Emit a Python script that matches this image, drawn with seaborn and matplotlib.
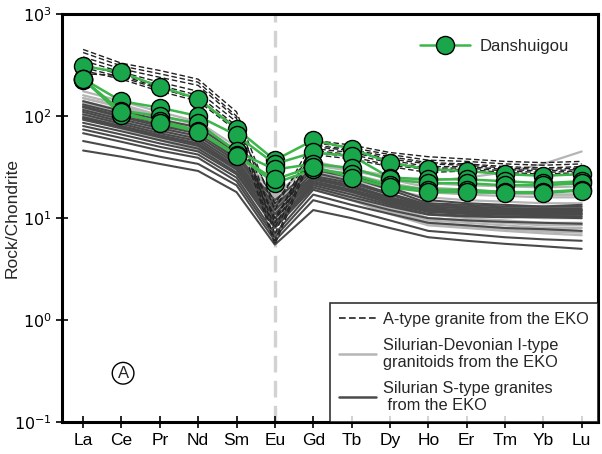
import numpy as np
import pandas as pd
import matplotlib
matplotlib.use("Agg")
import matplotlib.pyplot as plt
from matplotlib.lines import Line2D
import seaborn as sns

sns.set_style("ticks")
plt.rcParams["font.family"] = ["Liberation Sans", "DejaVu Sans"]

elements = ["La", "Ce", "Pr", "Nd", "Sm", "Eu", "Gd", "Tb", "Dy", "Ho", "Er", "Tm", "Yb", "Lu"]

# Chondrite-normalised REE patterns
a_type = [
    [450, 330, 280, 230, 110, 12, 58, 52, 44, 40, 38, 36, 35, 36],
    [420, 310, 260, 215, 100, 9, 55, 49, 42, 37, 36, 34, 33, 34],
    [380, 290, 240, 200, 95, 7, 52, 47, 40, 35, 34, 32, 31, 32],
    [350, 270, 215, 175, 88, 6, 48, 44, 37, 32, 32, 30, 29, 30],
    [320, 255, 200, 160, 80, 14, 46, 42, 35, 31, 31, 29, 28, 29],
    [300, 240, 185, 150, 75, 5.5, 44, 40, 33, 30, 30, 28, 27, 28],
    [280, 230, 175, 140, 72, 10, 42, 38, 32, 28, 29, 27, 26, 27],
    [260, 250, 190, 145, 78, 8, 50, 46, 38, 34, 33, 31, 30, 31],
]

i_type = [
    [175, 140, 110, 88, 50, 16, 36, 30, 24, 20, 19, 18, 17, 17],
    [160, 130, 102, 82, 46, 14, 33, 29, 25, 23, 25, 28, 34, 45],
    [150, 122, 95, 76, 42, 14, 31, 26, 21, 18, 17, 16.5, 16, 16],
    [140, 114, 89, 71, 40, 13, 29, 24, 19, 16, 15, 14.5, 14, 14],
    [132, 106, 83, 66, 38, 13, 27, 22, 17, 14, 13, 12.5, 12, 12],
    [125, 100, 78, 62, 36, 12, 25, 20, 15, 12, 11, 10.5, 10, 10],
    [118, 95, 74, 58, 34, 12, 24, 19, 14, 11, 10, 9.5, 9, 9],
    [112, 90, 70, 55, 32, 11, 23, 18, 13, 10, 9.5, 9, 8.5, 8.5],
    [108, 86, 66, 52, 30, 11, 22, 17, 12.5, 9.5, 9, 8.5, 8, 8],
    [102, 82, 63, 50, 29, 10, 21, 16, 12, 9, 8.5, 8, 7.7, 7.5],
    [98, 78, 60, 48, 28, 10, 20, 15.5, 11.5, 8.7, 8.2, 7.8, 7.4, 7.2],
    [95, 75, 58, 46, 27, 9.5, 19, 15, 11, 8.5, 8, 7.5, 7.1, 6.8],
    [150, 125, 100, 82, 46, 17, 34, 30, 26, 22, 21, 20.5, 20, 20.5],
    [135, 112, 90, 74, 43, 15, 31, 27, 22, 19, 18, 17.5, 17, 17],
    [120, 98, 78, 62, 36, 12, 26, 21, 16, 12.5, 11.5, 11, 10.5, 10.5],
    [105, 85, 67, 54, 31, 11, 22, 17.5, 13, 10, 9.5, 9, 8.8, 8.6],
]

s_type = [
    [140, 112, 92, 78, 44, 13, 30, 25, 19, 14, 13.5, 13, 13, 13],
    [130, 105, 86, 72, 41, 12, 28, 23, 17.5, 13.5, 13, 12.5, 12.5, 12.5],
    [122, 98, 80, 68, 38, 11, 26, 22, 17, 13, 12.5, 12, 12, 12],
    [115, 93, 76, 64, 36, 11, 25, 21, 16, 12.5, 12, 11.8, 11.8, 11.8],
    [110, 88, 72, 60, 34, 10, 24, 20, 15.5, 12.2, 11.8, 11.5, 11.5, 11.5],
    [104, 84, 68, 57, 32, 10, 23, 19, 15, 12, 11.5, 11.2, 11.2, 11.2],
    [98, 80, 65, 54, 31, 9, 22, 18.5, 14.5, 11.8, 11.3, 11, 11, 11],
    [92, 76, 62, 51, 30, 9, 22, 18, 14, 11.5, 11, 10.8, 10.8, 10.8],
    [86, 71, 58, 48, 28, 8.5, 21, 17, 13.5, 11, 10.6, 10.4, 10.5, 10.4],
    [80, 66, 54, 45, 27, 8, 20, 16, 13, 10.8, 10.4, 10.2, 10.2, 10],
    [74, 61, 50, 42, 25, 7, 19, 15, 12, 10, 9.5, 9.2, 9, 8.8],
    [68, 56, 46, 39, 23, 6.5, 17, 13.5, 11, 9, 8.5, 8, 7.8, 7.5],
    [57, 48, 40, 34, 21, 6, 15, 12, 9.5, 7.5, 7, 6.5, 6.2, 6],
    [46, 40, 34, 29, 18, 5.5, 12, 10, 8, 6.5, 6, 5.6, 5.3, 5],
    [125, 100, 82, 68, 40, 15, 31, 26, 20, 15, 14, 13.5, 13, 13.5],
    [95, 78, 64, 53, 31, 14, 25, 20, 16, 13, 12.5, 12, 12, 12],
]

danshuigou = [
    [309, 268, 194, 148, 75, 37, 58, 48, 35, 30, 29, 27, 26, 27],
    [232, 140, 121, 100, 65, 34, 44, 41, 25, 24, 24, 23, 22, 23],
    [225, 113, 100, 85, 45, 30, 34, 31, 24, 22, 22, 21, 21, 22],
    [230, 103, 90, 72, 42, 22, 30, 27, 21, 19, 19, 18, 18, 19],
    [230, 110, 86, 70, 41, 24, 32, 25, 20, 18, 18, 17.7, 17.7, 18.6],
]


def to_long(patterns):
    rows = []
    for k, vals in enumerate(patterns):
        for pos, v in enumerate(vals):
            rows.append({"sample": k, "pos": pos, "value": v})
    return pd.DataFrame(rows)


fig, ax = plt.subplots(figsize=(6.02, 4.54), dpi=100)
fig.subplots_adjust(left=0.103, right=0.993, top=0.969, bottom=0.070)

# Eu reference line
ax.axvline(5, color="#d2d2d2", lw=2.4, ls=(0, (5, 2.5)), zorder=0)

sns.lineplot(data=to_long(i_type), x="pos", y="value", units="sample", estimator=None,
             color="#b5b5b5", lw=1.6, legend=False, ax=ax, zorder=2)
sns.lineplot(data=to_long(s_type), x="pos", y="value", units="sample", estimator=None,
             color="#4a4a4a", lw=1.5, legend=False, ax=ax, zorder=2)
sns.lineplot(data=to_long(a_type), x="pos", y="value", units="sample", estimator=None,
             color="#222222", lw=1.0, ls=(0, (4, 2)), legend=False, ax=ax, zorder=3)
sns.lineplot(data=to_long(danshuigou), x="pos", y="value", units="sample", estimator=None,
             color="#3cb54a", lw=1.8, marker="o", markersize=13, markerfacecolor="#1aa64b",
             markeredgecolor="black", markeredgewidth=1.0, legend=False, ax=ax, zorder=5)

ax.set_yscale("log")
ax.set_ylim(0.1, 1000)
ax.set_xlim(-0.55, 13.42)
ax.set_xticks(range(len(elements)))
ax.set_xticklabels(elements, fontsize=12.5)
ax.set_yticks([0.1, 1, 10, 100, 1000])
ax.set_yticklabels([r"$10^{-1}$", r"$10^{0}$", r"$10^{1}$", r"$10^{2}$", r"$10^{3}$"], fontsize=11.5)
ax.yaxis.set_minor_locator(matplotlib.ticker.NullLocator())
ax.tick_params(axis="both", direction="inout", length=8, width=1.2, colors="black")
ax.set_xlabel("")
ax.set_ylabel("Rock/Chondrite", fontsize=12.5)
ax.yaxis.set_label_coords(-0.08, 0.5)
for sp in ax.spines.values():
    sp.set_linewidth(2.2)
    sp.set_color("black")

# Sample legend
h1 = [Line2D([], [], color="#3cb54a", lw=1.8, marker="o", markersize=13,
             markerfacecolor="#1aa64b", markeredgecolor="black", markeredgewidth=1.0)]
leg1 = ax.legend(h1, ["Danshuigou"], loc="upper right", bbox_to_anchor=(0.975, 0.975),
                 frameon=False, fontsize=12, handlelength=3.0, handletextpad=0.6)
ax.add_artist(leg1)

# Reference field legend
h2 = [Line2D([], [], color="#222222", lw=1.2, ls=(0, (4, 2))),
      Line2D([], [], color="#b5b5b5", lw=1.8),
      Line2D([], [], color="#4a4a4a", lw=1.8)]
leg2 = ax.legend(h2, ["A-type granite from the EKO",
                      "Silurian-Devonian I-type\ngranitoids from the EKO",
                      "Silurian S-type granites\n from the EKO"],
                 loc="lower right", bbox_to_anchor=(1.0, 0.0), borderaxespad=0,
                 frameon=True, fancybox=False, fontsize=11.8, handlelength=2.3,
                 handletextpad=0.4, labelspacing=0.65, borderpad=0.55)
leg2.get_frame().set_edgecolor("black")
leg2.get_frame().set_linewidth(1.2)
leg2.set_zorder(10)

ax.text(0.114, 0.12, "A", transform=ax.transAxes, ha="center", va="center", fontsize=12,
        bbox=dict(boxstyle="circle,pad=0.2", fc="white", ec="black", lw=1.0))

fig.savefig("out.png", dpi=100)
